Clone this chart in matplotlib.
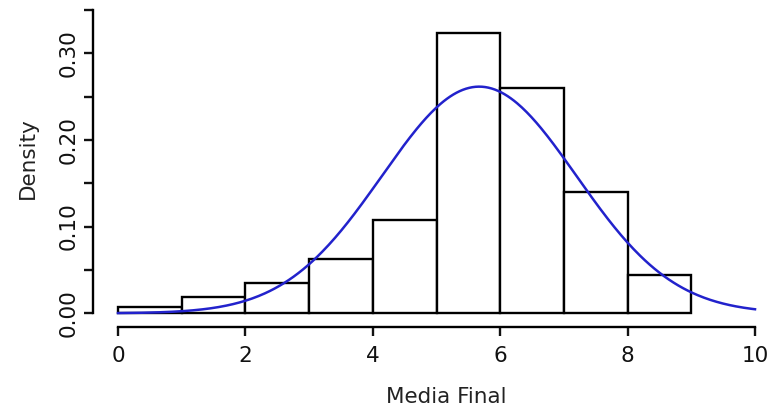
import numpy as np
import matplotlib.pyplot as plt

# histogram of the final averages (density scale)
bin_edges = [0, 1, 2, 3, 4, 5, 6, 7, 8, 9]
densities = [0.0076, 0.019, 0.0346, 0.063, 0.108, 0.323, 0.2595, 0.140, 0.044]
# fitted normal curve
mu = 5.67
sigma = 1.526

W, H = 775, 408
fig = plt.figure(figsize=(W / 100, H / 100), dpi=100)
# place the axes in pixels so that x=0..10 maps to 118..755 px
left, right = 92.5, 780.5
top, bottom = 5, 327
ax = fig.add_axes([left / W, 1 - bottom / H, (right - left) / W, (bottom - top) / H])

ax.bar(bin_edges[:-1], densities, width=1, align='edge',
       facecolor='white', edgecolor='black', linewidth=1.7)

xs = np.linspace(0, 10, 400)
ax.plot(xs, np.exp(-0.5 * ((xs - mu) / sigma) ** 2) / (sigma * np.sqrt(2 * np.pi)),
        color='#2222cc', linewidth=1.8)

ax.set_xlim(-0.4, 10.4)
ax.set_ylim(-(327 - 313.3) / 867, (313.3 - 5) / 867)

for s in ['top', 'right']:
    ax.spines[s].set_visible(False)
ax.spines['left'].set_bounds(0, 0.35)
ax.spines['bottom'].set_bounds(0, 10)
for s in ['left', 'bottom']:
    ax.spines[s].set_linewidth(1.7)

ax.set_xticks([0, 2, 4, 6, 8, 10])
ax.set_yticks(np.arange(0, 0.36, 0.05))
ax.set_yticklabels(['0.00', '', '0.10', '', '0.20', '', '0.30', ''], rotation=90, va='center')
ax.tick_params(axis='both', length=6.5, width=1.7, labelsize=15.5, colors='#111111')
ax.tick_params(axis='x', pad=7)
ax.tick_params(axis='y', pad=3.5)

ax.set_xlabel('Media Final', fontsize=15.5, color='#222222')
ax.set_ylabel('Density', fontsize=15.5, color='#222222')
ax.xaxis.set_label_coords((446 - left) / (right - left), -(397 - bottom) / (bottom - top), transform=ax.transAxes)
ax.yaxis.set_label_coords(-(92.5 - 28) / (right - left), 1 - (158 - top) / (bottom - top), transform=ax.transAxes)
ax.xaxis.label.set_va('center')
ax.yaxis.label.set_va('center')

fig.savefig('out.png', dpi=100)
